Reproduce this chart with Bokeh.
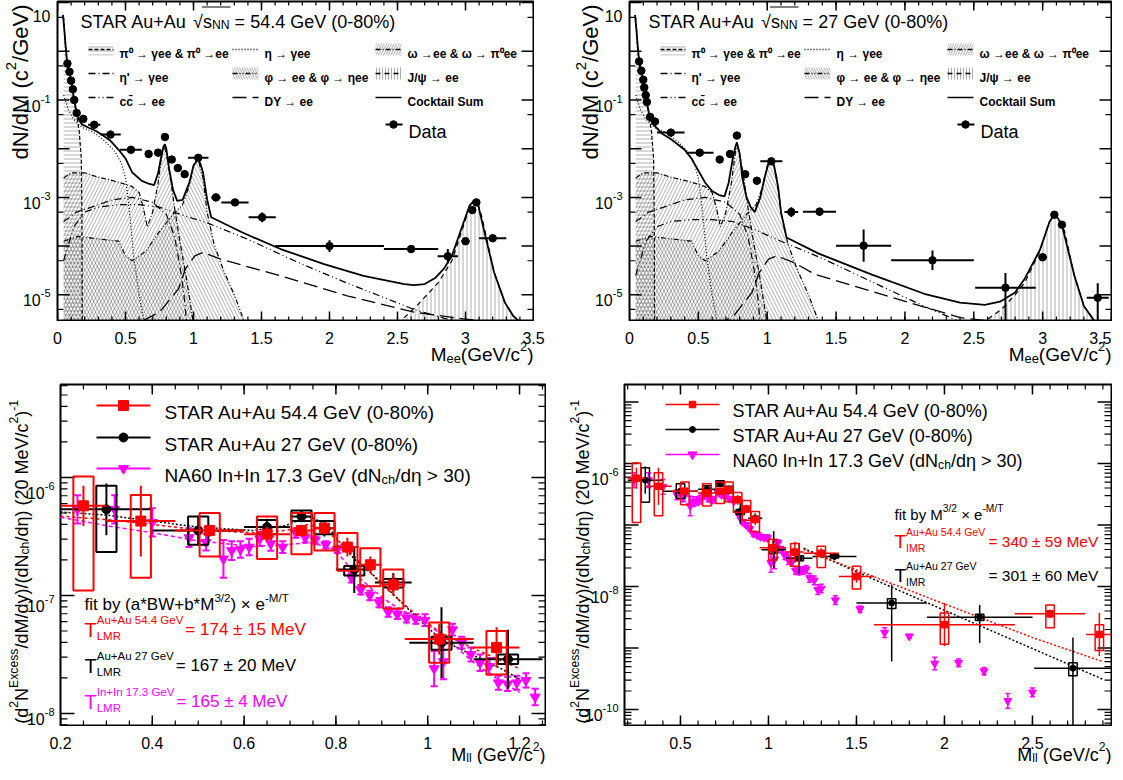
import math
from bokeh.plotting import figure
from bokeh.layouts import column, row
from bokeh.models import (Range1d, Label, ColumnDataSource, Whisker, TeeHead, Spacer)
from bokeh.embed import file_html
from bokeh.resources import INLINE

FONT = "Liberation Sans"
RED, BLK, MAG = "#ff0000", "#000000", "#ff00ff"

# ===================== DATA =====================
# --- top-left: Au+Au 54.4 GeV dielectron mass spectrum ---
tl_m = [0.073, 0.088, 0.10, 0.113, 0.123, 0.141, 0.19, 0.27, 0.39, 0.54, 0.67, 0.74, 0.79, 0.84,
        0.885, 0.935, 1.035, 1.165, 1.305, 1.505, 2.0, 2.6, 2.87, 3.0, 3.05, 3.08, 3.2]
tl_y = [0.56, 0.38, 0.25, 0.166, 0.10, 0.054, 0.041, 0.031, 0.0195, 0.0095, 0.0078, 0.0083, 0.0174,
        0.0060, 0.0040, 0.0030, 0.0065, 1.0e-3, 7.9e-4, 3.9e-4, 1.0e-4, 8.7e-5, 6.2e-5, 1.26e-4,
        5.5e-4, 7.9e-4, 1.45e-4]
tl_dx = [0, 0, 0, 0, 0, 0, 0.01, 0.045, 0.075, 0.08, 0.02, 0.015, 0.01, 0.015, 0.015, 0.015, 0.075,
         0.035, 0.1, 0.1, 0.4, 0.2, 0.075, 0.03, 0.01, 0.01, 0.1]
tl_eu = [0.02, 0.02, 0.02, 0.02, 0.02, 0.02, 0.02, 0.02, 0.04, 0.03, 0.03, 0.03, 0.02, 0.04, 0.05,
         0.08, 0.02, 0.08, 0.05, 0.1, 0.12, 0.07, 0.15, 0.05, 0.04, 0.03, 0.04]
tl_ed = tl_eu

# --- top-right: Au+Au 27 GeV ---
tr_m = [0.07, 0.086, 0.10, 0.107, 0.118, 0.126, 0.15, 0.185, 0.30, 0.51, 0.655, 0.73, 0.78, 0.84,
        0.925, 1.03, 1.175, 1.38, 1.70, 2.2, 2.73, 3.0, 3.085, 3.14, 3.4]
tr_y = [0.62, 0.40, 0.26, 0.18, 0.126, 0.091, 0.045, 0.036, 0.0214, 0.0083, 0.0060, 0.0078, 0.0186,
        0.0030, 0.0022, 0.0055, 5.0e-4, 5.1e-4, 1.02e-4, 5.1e-5, 1.4e-5, 5.9e-5, 4.4e-4, 2.75e-4, 8.7e-6]
tr_dx = [0, 0, 0, 0, 0, 0, 0, 0.01, 0.1, 0.1, 0.02, 0.02, 0.01, 0.02, 0.02, 0.08, 0.05, 0.12, 0.2,
         0.3, 0.22, 0.03, 0.01, 0.01, 0.08]
tr_eu = [0.02, 0.02, 0.02, 0.02, 0.02, 0.02, 0.02, 0.02, 0.03, 0.03, 0.03, 0.03, 0.02, 0.05, 0.07,
         0.03, 0.1, 0.08, 0.33, 0.2, 0.3, 0.07, 0.03, 0.03, 0.3]
tr_ed = [0.02, 0.02, 0.02, 0.02, 0.02, 0.02, 0.02, 0.02, 0.03, 0.03, 0.03, 0.03, 0.02, 0.05, 0.07,
         0.03, 0.1, 0.08, 0.33, 0.2, 1.0, 0.07, 0.03, 0.03, 1.0]

# --- cocktail components (shared light-hadron shapes) ---
pi0_m = [0.045, 0.06, 0.08, 0.10, 0.12, 0.14, 0.16, 0.175, 0.18, 0.182]
pi0_y = [5.0, 1.12, 0.316, 0.224, 0.105, 0.05, 0.0224, 0.0063, 3.2e-4, 2.5e-6]
eta_m = [0.045, 0.08, 0.12, 0.18, 0.23, 0.28, 0.35, 0.42, 0.47, 0.50, 0.53, 0.56, 0.60, 0.64]
eta_y = [0.126, 0.063, 0.04, 0.0275, 0.024, 0.0204, 0.0141, 0.0089, 0.005, 0.0025, 5.0e-4, 6.3e-5,
         1.0e-5, 2.5e-6]
omg_m = [0.045, 0.1, 0.2, 0.3, 0.4, 0.5, 0.55, 0.6, 0.63, 0.66, 0.70, 0.74, 0.77, 0.785, 0.80, 0.83,
         0.86, 0.9, 0.95, 1.0]
omg_y = [2.5e-3, 3.2e-3, 3.2e-3, 2.6e-3, 2.24e-3, 1.86e-3, 1.66e-3, 1.26e-3, 6.3e-4, 2.5e-4, 5.0e-4,
         2.0e-3, 8.9e-3, 0.0112, 7.9e-3, 2.5e-3, 6.3e-4, 1.26e-4, 2.0e-5, 2.5e-6]
phi_m = [0.045, 0.15, 0.3, 0.45, 0.5, 0.55, 0.65, 0.75, 0.85, 0.92, 0.97, 1.0, 1.02, 1.04, 1.07,
         1.1, 1.15, 1.22, 1.3, 1.38]
phi_y = [1.26e-4, 1.58e-4, 1.41e-4, 1.26e-4, 6.3e-5, 5.0e-5, 7.9e-5, 2.0e-4, 4.5e-4, 7.1e-4, 1.78e-3,
         4.5e-3, 6.0e-3, 5.2e-3, 2.5e-3, 5.0e-4, 1.12e-4, 3.2e-5, 1.0e-5, 2.5e-6]
etp_m = [0.045, 0.14, 0.25, 0.4, 0.55, 0.7, 0.8, 0.86, 0.9, 0.93, 0.95]
etp_y = [3.2e-4, 5.0e-4, 6.3e-4, 8.9e-4, 1.0e-3, 7.9e-4, 4.5e-4, 1.58e-4, 4.0e-5, 1.0e-5, 2.5e-6]

# 54.4 GeV: heavy flavour, Drell-Yan, J/psi, sum
cc54_m = [0.045, 0.12, 0.2, 0.3, 0.45, 0.6, 0.75, 0.9, 1.1, 1.4, 1.77, 2.12, 2.37, 2.62, 2.86, 3.1, 3.4]
cc54_y = [5.0e-5, 2.5e-4, 5.0e-4, 6.3e-4, 7.1e-4, 7.1e-4, 6.3e-4, 4.5e-4, 3.0e-4, 1.38e-4, 4.6e-5,
          1.78e-5, 9.5e-6, 5.0e-6, 3.2e-6, 2.24e-6, 1.58e-6]
dy54_m = [0.63, 0.75, 0.89, 0.94, 1.01, 1.07, 1.2, 1.64, 2.13, 2.62, 2.98, 3.18, 3.4]
dy54_y = [2.95e-6, 4.4e-6, 1.32e-5, 3.4e-5, 6.3e-5, 7.4e-5, 5.4e-5, 2.45e-5, 9.5e-6, 4.4e-6, 3.2e-6,
          2.8e-6, 2.24e-6]
jp54_m = [2.5, 2.65, 2.8, 2.9, 2.96, 3.0, 3.03, 3.06, 3.09, 3.12, 3.16, 3.21, 3.29, 3.35, 3.42]
jp54_y = [2.5e-6, 6.3e-6, 1.78e-5, 5.0e-5, 1.58e-4, 3.5e-4, 6.6e-4, 8.3e-4, 7.6e-4, 4.0e-4, 1.26e-4,
          2.9e-5, 6.9e-6, 3.7e-6, 2.5e-6]
sum54_m = [0.04, 0.05, 0.06, 0.07, 0.09, 0.10, 0.11, 0.12, 0.14, 0.16, 0.18, 0.23, 0.28, 0.33, 0.39,
           0.45, 0.50, 0.55, 0.62, 0.67, 0.71, 0.74, 0.76, 0.78, 0.79, 0.80, 0.82, 0.85, 0.88, 0.92,
           0.97, 1.00, 1.03, 1.05, 1.07, 1.10, 1.13, 1.36, 1.64, 1.96, 2.25, 2.55, 2.62, 2.70, 2.78,
           2.84, 2.90, 2.96, 3.03, 3.06, 3.09, 3.14, 3.21, 3.29, 3.35, 3.42]
sum54_y = [5.6, 2.8, 1.26, 0.63, 0.355, 0.25, 0.178, 0.112, 0.056, 0.038, 0.0316, 0.0269, 0.0234,
           0.0191, 0.0145, 0.0095, 0.0063, 0.00324, 0.00219, 0.00191, 0.00178, 0.00316, 0.0063,
           0.0112, 0.0123, 0.0100, 0.00398, 0.00141, 8.5e-4, 8.9e-4, 0.00204, 0.00447, 0.0060,
           0.0050, 0.00324, 9.1e-4, 3.9e-4, 1.9e-4, 8.7e-5, 4.27e-5, 2.45e-5, 1.66e-5, 1.58e-5,
           1.66e-5, 2.24e-5, 3.4e-5, 6.3e-5, 1.9e-4, 6.8e-4, 8.5e-4, 7.6e-4, 1.9e-4, 2.9e-5, 6.9e-6,
           3.7e-6, 2.5e-6]

# 27 GeV
cc27_m = [0.045, 0.12, 0.2, 0.3, 0.45, 0.6, 0.75, 0.9, 1.1, 1.4, 1.63, 2.14, 2.4, 2.7, 3.0]
cc27_y = [2.5e-5, 1.26e-4, 2.5e-4, 3.2e-4, 3.5e-4, 3.5e-4, 3.2e-4, 2.24e-4, 1.26e-4, 5.6e-5, 2.75e-5,
          5.8e-6, 2.8e-6, 1.58e-6, 1.0e-6]
dy27_m = [0.63, 0.75, 0.89, 0.94, 1.01, 1.07, 1.2, 1.35, 1.88, 2.4, 2.8, 3.1]
dy27_y = [2.5e-6, 3.5e-6, 1.12e-5, 2.8e-5, 5.4e-5, 6.3e-5, 4.5e-5, 2.6e-5, 9.3e-6, 3.4e-6, 2.5e-6, 2.0e-6]
jp27_m = [2.55, 2.7, 2.8, 2.87, 2.93, 2.98, 3.02, 3.05, 3.09, 3.12, 3.16, 3.23, 3.3, 3.38, 3.42]
jp27_y = [2.5e-6, 5.0e-6, 1.0e-5, 1.78e-5, 4.0e-5, 7.9e-5, 1.78e-4, 3.16e-4, 4.5e-4, 3.5e-4, 2.0e-4,
          2.5e-5, 5.8e-6, 2.8e-6, 2.5e-6]
sum27_m = [0.04, 0.05, 0.06, 0.07, 0.09, 0.10, 0.12, 0.14, 0.16, 0.18, 0.24, 0.30, 0.40, 0.45, 0.50,
           0.55, 0.60, 0.65, 0.69, 0.72, 0.75, 0.77, 0.78, 0.80, 0.82, 0.85, 0.88, 0.91, 0.95, 0.98,
           1.01, 1.03, 1.05, 1.08, 1.10, 1.14, 1.37, 1.76, 2.14, 2.40, 2.58, 2.69, 2.80, 2.87, 2.98,
           3.05, 3.09, 3.14, 3.23, 3.30, 3.38]
sum27_y = [5.6, 2.8, 1.26, 0.63, 0.355, 0.25, 0.112, 0.056, 0.038, 0.030, 0.020, 0.0158, 0.0095,
           0.0063, 0.00355, 0.0020, 0.00135, 0.00112, 0.00105, 0.0020, 0.0063, 0.0112, 0.0135, 0.0079,
           0.0025, 0.0010, 6.3e-4, 5.0e-4, 0.0010, 0.0025, 0.0050, 0.00575, 0.00447, 0.00158, 5.0e-4,
           1.5e-4, 7.1e-5, 2.6e-5, 1.05e-5, 6.9e-6, 6.2e-6, 7.2e-6, 1.12e-5, 2.14e-5, 8.3e-5, 3.16e-4,
           4.7e-4, 2.7e-4, 2.5e-5, 5.8e-6, 2.8e-6]

# --- bottom panels: excess spectra ---
s54_m = [0.25, 0.375, 0.525, 0.65, 0.725, 0.775, 0.825, 0.875, 0.925, 1.025, 1.15]
s54_dm = [0.05, 0.075, 0.075, 0.05, 0.025, 0.025, 0.025, 0.025, 0.025, 0.075, 0.05]
s54_y = [5.75e-7, 4.27e-7, 3.55e-7, 3.31e-7, 3.55e-7, 3.72e-7, 2.57e-7, 1.82e-7, 1.23e-7, 4.27e-8, 3.63e-8]
s54_st = [0.17, 0.3, 0.05, 0.06, 0.05, 0.05, 0.08, 0.07, 0.09, 0.13, 0.17]
s54_shi = [1.02e-6, 7.1e-7, 5.0e-7, 4.68e-7, 5.0e-7, 5.0e-7, 3.39e-7, 2.51e-7, 1.66e-7, 5.89e-8, 5.0e-8]
s54_slo = [1.1e-7, 1.41e-7, 2.14e-7, 2.04e-7, 2.24e-7, 2.4e-7, 1.62e-7, 1.2e-7, 7.76e-8, 2.69e-8, 2.14e-8]
s54i_m = [1.3, 1.5, 2.0, 2.6, 2.88]
s54i_dm = [0.1, 0.1, 0.4, 0.2, 0.075]
s54i_y = [3.47e-8, 1.45e-8, 2.4e-9, 3.6e-9, 1.66e-9]
s54i_st = [0.08, 0.1, 0.35, 0.07, 0.35]
s54i_shi = [4.5e-8, 2.14e-8, 3.7e-9, 5.0e-9, 2.4e-9]
s54i_slo = [2.04e-8, 9.1e-9, 1.15e-9, 2.14e-9, 9.1e-10]
s27_m = [0.3, 0.5, 0.65, 0.725, 0.775, 0.84, 0.925, 1.03, 1.175]
s27_dm = [0.1, 0.1, 0.05, 0.025, 0.025, 0.04, 0.04, 0.07, 0.075]
s27_y = [5.37e-7, 3.55e-7, 3.8e-7, 4.68e-7, 3.72e-7, 1.66e-7, 1.29e-7, 3.98e-8, 2.88e-8]
s27_st = [0.22, 0.12, 0.07, 0.05, 0.07, 0.2, 0.08, 0.3, 0.25]
s27_shi = [8.5e-7, 4.68e-7, 4.37e-7, 5.25e-7, 4.27e-7, 1.78e-7, 1.38e-7, 4.47e-8, 3.16e-8]
s27_slo = [2.34e-7, 2.69e-7, 3.31e-7, 4.27e-7, 3.31e-7, 1.48e-7, 1.17e-7, 3.47e-8, 2.63e-8]
s27i_m = [1.375, 1.7, 2.2, 2.73]
s27i_dm = [0.125, 0.2, 0.3, 0.22]
s27i_y = [3.09e-8, 5.4e-9, 3.16e-9, 4.7e-10]
s27i_su = [0.06, 0.3, 0.2, 0.5]
s27i_sd = [0.06, 0.95, 0.42, 1.5]
s27i_shi = [3.3e-8, 6.3e-9, 3.55e-9, 5.75e-10]
s27i_slo = [2.9e-8, 4.4e-9, 2.8e-9, 3.55e-10]
na_m = [0.237, 0.318, 0.40, 0.48, 0.517, 0.555, 0.573, 0.592, 0.611, 0.634, 0.658, 0.684, 0.713,
        0.733, 0.755, 0.778, 0.803, 0.834, 0.854, 0.874, 0.894, 0.914, 0.934, 0.954, 0.974, 0.994,
        1.014, 1.034, 1.054, 1.074, 1.094, 1.114, 1.134, 1.154, 1.174, 1.194, 1.214, 1.234, 1.26,
        1.28, 1.30, 1.38, 1.52, 1.66, 1.80, 1.945, 2.08, 2.225, 2.36, 2.50]
na_y = [5.37e-7, 5.37e-7, 4.17e-7, 3.09e-7, 2.82e-7, 2.04e-7, 2.40e-7, 2.45e-7, 2.57e-7, 3.02e-7,
        2.75e-7, 2.57e-7, 3.39e-7, 3.09e-7, 2.95e-7, 2.69e-7, 2.45e-7, 1.41e-7, 1.12e-7, 1.00e-7,
        8.7e-8, 7.24e-8, 6.92e-8, 6.46e-8, 6.31e-8, 6.17e-8, 2.40e-8, 2.75e-8, 5.13e-8, 3.98e-8,
        3.16e-8, 2.69e-8, 2.51e-8, 1.82e-8, 1.78e-8, 1.82e-8, 1.91e-8, 1.38e-8, 1.26e-8, 8.9e-9,
        9.3e-9, 6.0e-9, 4.3e-9, 1.78e-9, 1.55e-9, 5.6e-10, 5.75e-10, 4.2e-10, 1.38e-10, 1.9e-10]
na_e = [0.12, 0.12, 0.12, 0.08, 0.07, 0.16, 0.08, 0.07, 0.07, 0.06, 0.06, 0.05, 0.04, 0.04, 0.03,
        0.03, 0.03, 0.04, 0.04, 0.04, 0.04, 0.04, 0.04, 0.04, 0.04, 0.05, 0.15, 0.15, 0.05, 0.05,
        0.06, 0.07, 0.07, 0.06, 0.06, 0.06, 0.06, 0.07, 0.07, 0.08, 0.07, 0.07, 0.05, 0.08, 0.03,
        0.1, 0.06, 0.06, 0.12, 0.07]
fit_m = [0.2, 0.3, 0.4, 0.5, 0.62, 0.69, 0.74, 0.78, 0.8, 0.84, 0.88, 0.92, 0.98, 1.03, 1.1, 1.16, 1.2]
fit27_y = [5.1e-7, 4.8e-7, 4.27e-7, 3.8e-7, 3.55e-7, 3.9e-7, 4.7e-7, 4.0e-7, 3.1e-7, 2.04e-7, 1.51e-7,
           1.07e-7, 6.3e-8, 4.2e-8, 3.1e-8, 2.4e-8, 1.95e-8]
fit54_y = [4.7e-7, 4.4e-7, 4.0e-7, 3.6e-7, 3.4e-7, 3.55e-7, 4.0e-7, 3.55e-7, 3.0e-7, 2.14e-7, 1.48e-7,
           1.05e-7, 6.6e-8, 4.8e-8, 3.55e-8, 2.8e-8, 2.4e-8]
fitna_y = [4.6e-7, 3.9e-7, 3.4e-7, 2.9e-7, 2.6e-7, 2.7e-7, 2.8e-7, 2.6e-7, 2.4e-7, 1.55e-7, 1.12e-7,
           8.5e-8, 6.3e-8, 4.7e-8, 2.7e-8, 1.86e-8, 1.51e-8]
fiti_m = [1.2, 1.5, 2.0, 2.5, 2.9]
fiti54_y = [4.0e-8, 1.86e-8, 5.2e-9, 1.48e-9, 6.0e-10]
fiti27_y = [4.2e-8, 1.74e-8, 4.1e-9, 9.8e-10, 3.1e-10]

# --- axis ticks / labels (label = mantissa, exponent) ---
top_xt = [0, 0.5, 1, 1.5, 2, 2.5, 3, 3.5]
top_xl = ["0", "0.5", "1", "1.5", "2", "2.5", "3", "3.5"]
top_yt = [1e1, 1e0, 1e-1, 1e-2, 1e-3, 1e-4, 1e-5]
top_yl = [("10", ""), ("", ""), ("10", "-1"), ("", ""), ("10", "-3"), ("", ""), ("10", "-5")]
bl_xt = [0.2, 0.4, 0.6, 0.8, 1.0, 1.2]
bl_xl = ["0.2", "0.4", "0.6", "0.8", "1", "1.2"]
bl_yt = [1e-6, 1e-7, 1e-8]
bl_yl = [("10", "-6"), ("10", "-7"), ("10", "-8")]
br_xt = [0.5, 1.0, 1.5, 2.0, 2.5]
br_xl = ["0.5", "1", "1.5", "2", "2.5"]
br_yt = [1e-5, 1e-6, 1e-7, 1e-8, 1e-9, 1e-10]
br_yl = [("", ""), ("10", "-6"), ("", ""), ("10", "-8"), ("", ""), ("10", "-10")]

# ===================== HELPERS =====================
AW = dict(zip(" !\"#$%&'()*+,-./", [278, 278, 355, 556, 556, 889, 667, 191, 333, 333, 389, 584, 278, 333, 278, 278]))
AW.update({d: 556 for d in "0123456789"})
AW.update(dict(zip(":;<=>?", [278, 278, 584, 584, 584, 556])))
AW.update(dict(zip("ABCDEFGHIJKLMNOPQRSTUVWXYZ",
                   [667, 667, 722, 722, 667, 611, 778, 722, 278, 500, 667, 556, 833, 722, 778, 667,
                    778, 722, 667, 611, 722, 667, 944, 667, 667, 611])))
AW.update(dict(zip("abcdefghijklmnopqrstuvwxyz",
                   [556, 556, 500, 556, 556, 278, 556, 556, 222, 222, 500, 222, 833, 556, 556, 556,
                    556, 333, 500, 278, 556, 500, 722, 500, 500, 500])))
AW.update({"\u00b1": 584, "\u00d7": 584, "\u221a": 549, "\u2192": 1000, "\u03b3": 500, "\u03b7": 556,
           "\u03c9": 690, "\u03c6": 650, "\u03c8": 700, "\u03c0": 560, "\u2070": 333, "\u0304": 0,
           "\u2212": 584})


def tw(s, size, bold=False):
    return sum(AW.get(c, 556) for c in s) * size / 1000.0 * (1.07 if bold else 1.0)


def px(pn, X, Y):
    x = pn["x0"] + (X - pn["L"]) / (pn["R"] - pn["L"]) * (pn["x1"] - pn["x0"])
    ly = pn["ly1"] - (Y - pn["T"]) / (pn["B"] - pn["T"]) * (pn["ly1"] - pn["ly0"])
    return x, 10 ** ly


def rich_xy(p, x, y, parts, color="black", align="left", rot=False, bold=False):
    ws = [tw(t, s, bold) for t, s, sh in parts]
    total = sum(ws)
    acc = {"left": 0.0, "right": -total, "center": -total / 2}[align]
    for (t, s, sh), w in zip(parts, ws):
        lead = len(t) - len(t.lstrip(" "))
        off = acc + tw(" " * lead, s, bold)
        txt = t.lstrip(" ")
        kw = dict(x=x, y=y, text=txt, text_font=FONT, text_font_size="%.1fpx" % s,
                  text_color=color, text_baseline="alphabetic", text_align="left",
                  text_font_style="bold" if bold else "normal")
        if rot:
            kw.update(angle=math.pi / 2, x_offset=-sh, y_offset=off)
        else:
            kw.update(x_offset=off, y_offset=sh)
        p.add_layout(Label(**kw))
        acc += w
    return total


def rich(p, pn, X, Y, parts, color="black", align="left", rot=False, bold=False):
    x, y = px(pn, X, Y)
    return rich_xy(p, x, y, parts, color, align, rot, bold)


def srich(s, X, Y, parts, color="black", align="left", rot=False):
    f, ox, oy, w = s
    return rich_xy(f, X - ox, Y - oy, parts, color, align, rot)


def N(t, s):
    return (t, s, 0)


def SUP(t, s):
    return (t, 0.68 * s, 0.42 * s)


def SUB(t, s):
    return (t, 0.68 * s, -0.22 * s)


def strip(ox, oy, w, h):
    f = figure(width=w, height=h, x_range=Range1d(0, w), y_range=Range1d(h, 0),
               x_axis_location=None, y_axis_location=None, output_backend="svg",
               toolbar_location=None, min_border=0)
    f.outline_line_color = None
    f.grid.visible = False
    f.background_fill_color = "white"
    f.border_fill_color = "white"
    return (f, ox, oy, w)


def main_fig(pn, ox, oy, w, h, xt, xmin, yt, ymin, xtl, ytl):
    p = figure(width=w, height=h, x_range=Range1d(pn["x0"], pn["x1"]),
               y_range=Range1d(10 ** pn["ly0"], 10 ** pn["ly1"]), y_axis_type="log",
               x_axis_location=None, y_axis_location=None,
               output_backend="svg", toolbar_location=None,
               min_border_left=pn["L"] - ox, min_border_right=ox + w - pn["R"],
               min_border_top=pn["T"] - oy, min_border_bottom=oy + h - pn["B"])
    p.grid.visible = False
    p.outline_line_color = "black"
    p.outline_line_width = 2
    p.background_fill_color = "white"
    p.border_fill_color = "white"
    ppd = (pn["B"] - pn["T"]) / (pn["ly1"] - pn["ly0"])
    ppx = (pn["R"] - pn["L"]) / (pn["x1"] - pn["x0"])
    ytop, ybot = 10 ** pn["ly1"], 10 ** pn["ly0"]
    for ticks, ln, lw in ((xt, xtl[0], 1.5), (xmin, xtl[1], 1.2)):
        tk = [t for t in ticks if pn["x0"] <= t <= pn["x1"]]
        n = len(tk)
        p.segment(x0=tk, x1=tk, y0=[ytop] * n, y1=[10 ** (pn["ly1"] - ln / ppd)] * n,
                  line_color="black", line_width=lw)
        p.segment(x0=tk, x1=tk, y0=[ybot] * n, y1=[10 ** (pn["ly0"] + ln / ppd)] * n,
                  line_color="black", line_width=lw)
    for ticks, ln, lw in ((yt, ytl[0], 1.5), (ymin, ytl[1], 1.2)):
        tk = [t for t in ticks if pn["ly0"] <= math.log10(t) <= pn["ly1"]]
        n = len(tk)
        p.segment(x0=[pn["x1"]] * n, x1=[pn["x1"] - ln / ppx] * n, y0=tk, y1=tk,
                  line_color="black", line_width=lw)
        p.segment(x0=[pn["x0"]] * n, x1=[pn["x0"] + ln / ppx] * n, y0=tk, y1=tk,
                  line_color="black", line_width=lw)
    return p


def tick_labels(pn, bottom, left, xt, xl, yt, yl, xb, yr):
    ppx = (pn["R"] - pn["L"]) / (pn["x1"] - pn["x0"])
    ppd = (pn["B"] - pn["T"]) / (pn["ly1"] - pn["ly0"])
    edge = bottom[1] + bottom[3]
    for t, lab in zip(xt, xl):
        X = pn["L"] + (t - pn["x0"]) * ppx
        X = min(X, edge - tw(lab, 16) / 2 - 1)
        srich(bottom, X, xb, [N(lab, 16)], align="center")
    for t, (b, e) in zip(yt, yl):
        if not b:
            continue
        Y = pn["T"] + (pn["ly1"] - math.log10(t)) * ppd
        parts = [N(b, 16)] + ([(e, 11, 7)] if e else [])
        srich(left, yr, max(Y + 6, left[2] + 15), parts, align="right")


FLOOR = 1e-7


def hatch_area(p, m, y, pattern, scale, dash, lw=1.2):
    p.varea(x=m, y1=[FLOOR] * len(m), y2=y, fill_alpha=0, hatch_pattern=pattern,
            hatch_color="black", hatch_alpha=0.45, hatch_scale=scale, hatch_weight=0.7)
    p.line(m, y, line_color="black", line_width=lw, line_dash=dash)


DASH = {"pi0": "4 2", "eta": "1 2", "omg": "5 2 1 2", "etp": "7 3 1 3", "phi": "5 2 1 2 1 2",
        "jp": "5 4", "cc": "7 3 1 3 1 3", "dy": "14 6"}


def top_panel(p, pn, dx_shift, title_x, energy, d_m, d_y, d_dx, d_eu, d_ed,
              cc_m, cc_y, dy_m, dy_y, jp_m, jp_y, s_m, s_y):
    hatch_area(p, pi0_m, pi0_y, "-", 4, DASH["pi0"])
    hatch_area(p, omg_m, omg_y, "/", 7, DASH["omg"])
    hatch_area(p, phi_m, phi_y, "\\", 7, DASH["phi"])
    hatch_area(p, jp_m, jp_y, "|", 4, DASH["jp"])
    p.line(eta_m, eta_y, line_color="black", line_width=1.2, line_dash=DASH["eta"])
    p.line(etp_m, etp_y, line_color="black", line_width=1.2, line_dash=DASH["etp"])
    p.line(cc_m, cc_y, line_color="black", line_width=1.2, line_dash=DASH["cc"])
    p.line(dy_m, dy_y, line_color="black", line_width=1.3, line_dash=DASH["dy"])
    p.line(s_m, s_y, line_color="black", line_width=1.8)
    xe = [(m - d, m + d, y) for m, y, d in zip(d_m, d_y, d_dx) if d > 0]
    p.segment(x0=[a for a, b, c in xe], x1=[b for a, b, c in xe], y0=[c for a, b, c in xe],
              y1=[c for a, b, c in xe], line_color="black", line_width=2)
    p.segment(x0=d_m, x1=d_m, y0=[y / 10 ** e for y, e in zip(d_y, d_ed)],
              y1=[y * 10 ** e for y, e in zip(d_y, d_eu)], line_color="black", line_width=2)
    p.scatter(d_m, d_y, marker="circle", size=7.5, color="black")

    Yb = 29
    parts = [N("STAR Au+Au ", 18), N("\u221a", 18), N("s", 18), SUB("NN", 18),
             N(" = %s GeV (0-80%%)" % energy, 18)]
    rich(p, pn, title_x, Yb, parts)
    xa = title_x + tw("STAR Au+Au \u221a", 18) - 1
    xb = title_x + tw("STAR Au+Au \u221as", 18) + tw("NN", 0.68 * 18) + 1
    (x1, y1), (x2, _) = px(pn, xa, Yb - 14.5), px(pn, xb, Yb - 14.5)
    p.line([x1, x2], [y1, y1], line_color="black", line_width=1)

    cols = [(96, 121, 127), (240, 266, 272), (383, 409, 415)]
    rows = [57, 81, 105]
    items = [
        [("-", 4, DASH["pi0"], "\u03c0\u2070 \u2192 \u03b3ee & \u03c0\u2070 \u2192ee"),
         (None, 0, DASH["eta"], "\u03b7 \u2192 \u03b3ee"),
         ("/", 5, DASH["omg"], "\u03c9 \u2192ee & \u03c9 \u2192 \u03c0\u2070ee")],
        [(None, 0, DASH["etp"], "\u03b7' \u2192 \u03b3ee"),
         ("\\", 5, DASH["phi"], "\u03c6 \u2192 ee & \u03c6 \u2192 \u03b7ee"),
         ("|", 3, DASH["jp"], "J/\u03c8  \u2192 ee")],
        [(None, 0, DASH["cc"], "cc\u0304 \u2192 ee"),
         (None, 0, DASH["dy"], "DY \u2192 ee"),
         (None, 0, None, "Cocktail Sum")],
    ]
    for r, yc in enumerate(rows):
        for c, (xa_, xb_, xt_) in enumerate(cols):
            hp, hs, dash, text = items[r][c]
            xa_ += dx_shift
            xb_ += dx_shift
            xt_ += dx_shift
            (qx0, qy0), (qx1, qy1) = px(pn, xa_, yc + 6), px(pn, xb_, yc - 6)
            if hp:
                p.quad(left=[qx0], right=[qx1], bottom=[qy0], top=[qy1], fill_alpha=0, line_color=None,
                       hatch_pattern=hp, hatch_color="black", hatch_alpha=0.45, hatch_scale=hs,
                       hatch_weight=0.7)
            lx0, ly_ = px(pn, xa_, yc)
            lx1, _ = px(pn, xb_, yc)
            if dash:
                p.line([lx0, lx1], [ly_, ly_], line_color="black", line_width=1.3, line_dash=dash)
            else:
                p.line([lx0, lx1], [ly_, ly_], line_color="black", line_width=1.6)
            rich(p, pn, xt_, yc + 4, [N(text, 12)], bold=True)
    a0, yy = px(pn, 393 + dx_shift, 132)
    a1, _ = px(pn, 410 + dx_shift, 132)
    am, _ = px(pn, 401 + dx_shift, 132)
    p.line([a0, a1], [yy, yy], line_color="black", line_width=2)
    p.scatter([am], [yy], marker="circle", size=7.5, color="black")
    rich(p, pn, 416 + dx_shift, 139, [N("Data", 18)])


def draw_star(p, m, dm, y, su, sd, shi, slo, color, marker, size, bw, lw):
    p.quad(left=[a - bw for a in m], right=[a + bw for a in m], bottom=slo, top=shi,
           fill_alpha=0, line_color=color, line_width=lw)
    p.segment(x0=[a - d for a, d in zip(m, dm)], x1=[a + d for a, d in zip(m, dm)], y0=y, y1=y,
              line_color=color, line_width=lw)
    p.segment(x0=m, x1=m, y0=[v / 10 ** e for v, e in zip(y, sd)],
              y1=[v * 10 ** e for v, e in zip(y, su)], line_color=color, line_width=lw)
    p.scatter(m, y, marker=marker, size=size, color=color)


def draw_na60(p, m, y, e, size, cap, lw):
    src = ColumnDataSource(dict(x=m, y=y, u=[v * 10 ** d for v, d in zip(y, e)],
                                l=[v / 10 ** d for v, d in zip(y, e)]))
    p.add_layout(Whisker(source=src, base="x", upper="u", lower="l", dimension="height",
                         line_color=MAG, line_width=lw,
                         upper_head=TeeHead(size=cap, line_color=MAG, line_width=lw),
                         lower_head=TeeHead(size=cap, line_color=MAG, line_width=lw)))
    p.scatter("x", "y", source=src, marker="inverted_triangle", size=size, color=MAG)


def legend_rows(p, pn, lx0, lx1, rows, tx, fs, specs, lw):
    for yc, (color, marker, size, parts) in zip(rows, specs):
        a0, yy = px(pn, lx0, yc)
        a1, _ = px(pn, lx1, yc)
        am, _ = px(pn, (lx0 + lx1) / 2, yc)
        p.line([a0, a1], [yy, yy], line_color=color, line_width=lw)
        p.scatter([am], [yy], marker=marker, size=size, color=color)
        rich(p, pn, tx, yc + 0.36 * fs, parts)


def trow(p, pn, X, Yb, sup, sub, val, color, ts, ss, vs, sdy, bdy, vx=None):
    rich(p, pn, X, Yb, [("T", ts, 0)], color)
    xs = X + tw("T", ts)
    rich(p, pn, xs, Yb, [(sup, ss, sdy)], color)
    rich(p, pn, xs, Yb, [(sub, ss, bdy)], color)
    if vx is None:
        vx = xs + max(tw(sup, ss), tw(sub, ss)) + 2
    rich(p, pn, vx, Yb, [(val, vs, 0)], color)


# ===================== PANELS =====================
PTL = dict(L=65, R=541, T=9, B=328, x0=0.0, x1=3.5, ly0=-5.528, ly1=1.023)
PTR = dict(L=637, R=1119, T=9, B=328, x0=0.0, x1=3.5, ly0=-5.528, ly1=1.023)
PBL = dict(L=68, R=553, T=392, B=733, x0=0.2, x1=1.2566, ly0=-8.102, ly1=-5.212)
PBR = dict(L=632, R=1119, T=392, B=733, x0=0.182, x1=2.949, ly0=-10.26, ly1=-4.715)

top_xmin = [round(0.1 * i, 2) for i in range(36)]
top_ymin = [5 * 10.0 ** k for k in range(-6, 1)]
bl_xmin = [round(0.2 + 0.05 * i, 3) for i in range(22)]
bl_ymin = [j * 10.0 ** k for k in range(-9, -5) for j in range(2, 10)]
br_xmin = [round(0.2 + 0.1 * i, 2) for i in range(28)]
br_ymin = [j * 10.0 ** k for k in range(-11, -4) for j in range(2, 10)]

# main plotting frames
f1 = main_fig(PTL, 64, 8, 478, 321, top_xt, top_xmin, top_yt, top_ymin, (9, 4), (12, 6))
f2 = main_fig(PTR, 636, 8, 484, 321, top_xt, top_xmin, top_yt, top_ymin, (9, 4), (12, 6))
f3 = main_fig(PBL, 67, 378, 487, 356, bl_xt, bl_xmin, bl_yt, bl_ymin, (10, 5), (14, 7))
f4 = main_fig(PBR, 631, 378, 489, 356, br_xt, br_xmin, br_yt, br_ymin, (10, 5), (14, 7))

# strips holding tick labels and axis titles
ls1, bs1 = strip(8, 8, 56, 321), strip(8, 329, 556, 49)
ls2, bs2 = strip(564, 8, 72, 321), strip(564, 329, 556, 49)
ls3, bs3 = strip(8, 378, 59, 356), strip(8, 734, 556, 38)
ls4, bs4 = strip(564, 378, 67, 356), strip(564, 734, 556, 38)

top_panel(f1, PTL, 0, 88, "54.4", tl_m, tl_y, tl_dx, tl_eu, tl_ed,
          cc54_m, cc54_y, dy54_m, dy54_y, jp54_m, jp54_y, sum54_m, sum54_y)
top_panel(f2, PTR, 572, 656, "27", tr_m, tr_y, tr_dx, tr_eu, tr_ed,
          cc27_m, cc27_y, dy27_m, dy27_y, jp27_m, jp27_y, sum27_m, sum27_y)

for pn, ls, bs, ylx in ((PTL, ls1, bs1, 28), (PTR, ls2, bs2, 598)):
    tick_labels(pn, bs, ls, top_xt, top_xl, top_yt, top_yl, 345, pn["L"] - 7)
    srich(bs, pn["R"], 362, [N("M", 19), SUB("ee", 19), N("(GeV/c", 19), SUP("2", 19), N(")", 19)],
          align="right")
    srich(ls, ylx, 11, [N("dN/dM (c", 22), SUP("2", 22), N("/GeV)", 22)], align="right", rot=True)

# ---- bottom-left ----
p = f3
p.line(fit_m, fit27_y, line_color=BLK, line_width=1.5, line_dash="2 2")
p.line(fit_m, fit54_y, line_color=RED, line_width=1.5, line_dash="3 3")
p.line(fit_m, fitna_y, line_color=MAG, line_width=1.5, line_dash="4 3")
nl = [i for i, m in enumerate(na_m) if m < 1.25]
draw_na60(p, [na_m[i] for i in nl], [na_y[i] for i in nl], [na_e[i] for i in nl], 10, 7, 2)
draw_star(p, s27_m, s27_dm, s27_y, s27_st, s27_st, s27_shi, s27_slo, BLK, "circle", 9, 0.022, 2)
draw_star(p, s54_m, s54_dm, s54_y, s54_st, s54_st, s54_shi, s54_slo, RED, "square", 10, 0.022, 2)
legend_rows(p, PBL, 104, 158, [413, 445, 476], 172, 19, [
    (RED, "square", 10, [N("STAR Au+Au 54.4 GeV (0-80%)", 19)]),
    (BLK, "circle", 9, [N("STAR Au+Au 27 GeV (0-80%)", 19)]),
    (MAG, "inverted_triangle", 10, [N("NA60 In+In 17.3 GeV (dN", 19), SUB("ch", 19), N("/d\u03b7 > 30)", 19)]),
], 2)
rich(p, PBL, 92, 612, [N("fit by (a*BW+b*M", 17), SUP("3/2", 17), N(") \u00d7 e", 17), SUP("-M/T", 17)])
trow(p, PBL, 92, 637, "Au+Au 54.4 GeV", "LMR", "= 174 \u00b1 15 MeV", RED, 20, 11.5, 17, 10, -6)
trow(p, PBL, 92, 673, "Au+Au 27 GeV", "LMR", "= 167 \u00b1 20 MeV", BLK, 20, 11.5, 17, 10, -6)
trow(p, PBL, 92, 709, "In+In 17.3 GeV", "LMR", "= 165 \u00b1 4 MeV", MAG, 20, 11.5, 17, 10, -6)

# ---- bottom-right ----
p = f4
p.line(fiti_m, fiti27_y, line_color=BLK, line_width=1.5, line_dash="2 2")
p.line(fiti_m, fiti54_y, line_color=RED, line_width=1.5, line_dash="2 2")
draw_na60(p, na_m, na_y, na_e, 8, 5, 1.5)
draw_star(p, s27_m + s27i_m, s27_dm + s27i_dm, s27_y + s27i_y, s27_st + s27i_su, s27_st + s27i_sd,
          s27_shi + s27i_shi, s27_slo + s27i_slo, BLK, "circle", 6, 0.024, 1.5)
draw_star(p, s54_m + s54i_m, s54_dm + s54i_dm, s54_y + s54i_y, s54_st + s54i_st, s54_st + s54i_st,
          s54_shi + s54i_shi, s54_slo + s54i_slo, RED, "square", 6.5, 0.024, 1.5)
legend_rows(p, PBR, 673, 727, [412, 437, 462], 740, 18, [
    (RED, "square", 6.5, [N("STAR Au+Au 54.4 GeV (0-80%)", 18)]),
    (BLK, "circle", 6, [N("STAR Au+Au 27 GeV (0-80%)", 18)]),
    (MAG, "inverted_triangle", 9, [N("NA60 In+In 17.3 GeV (dN", 18), SUB("ch", 18), N("/d\u03b7 > 30)", 18)]),
], 1.5)
rich(p, PBR, 902, 522, [N("fit by M", 15), SUP("3/2", 15), N(" \u00d7 e", 15), SUP("-M/T", 15)])
trow(p, PBR, 902, 549, "Au+Au 54.4 GeV", "IMR", "= 340 \u00b1 59 MeV", RED, 19, 10.5, 15.5, 9.5, -6, vx=996)
trow(p, PBR, 902, 583, "Au+Au 27 GeV", "IMR", "= 301 \u00b1 60 MeV", BLK, 19, 10.5, 15.5, 9.5, -6, vx=996)

ylab = [N("(d", 18), SUP("2", 18), N("N", 18), SUP("Excess", 18), N("/dM/dy)/(dN", 18), SUB("ch", 18),
        N("/d\u03b7) (20 MeV/c", 18), SUP("2", 18), N(")", 18), SUP("-1", 18)]
for pn, ls, bs, xt, xl, yt, yl, ylx in ((PBL, ls3, bs3, bl_xt, bl_xl, bl_yt, bl_yl, 29),
                                        (PBR, ls4, bs4, br_xt, br_xl, br_yt, br_yl, 590)):
    tick_labels(pn, bs, ls, xt, xl, yt, yl, 750, pn["L"] - 6)
    srich(bs, pn["R"], 762, [N("M", 18), SUB("ll", 18), N(" (GeV/c", 18), SUP("2", 18), N(")", 18)],
          align="right")
    srich(ls, ylx, 394, ylab, align="right", rot=True)

blk_tl = column(row(ls1[0], f1, Spacer(width=22, height=321)), bs1[0])
blk_tr = column(row(ls2[0], f2), bs2[0])
blk_bl = column(row(ls3[0], f3, Spacer(width=10, height=356)), bs3[0])
blk_br = column(row(ls4[0], f4), bs4[0])
layout = column(row(blk_tl, blk_tr), row(blk_bl, blk_br))
open("out.html", "w").write(file_html(layout, INLINE, title="dielectron"))
